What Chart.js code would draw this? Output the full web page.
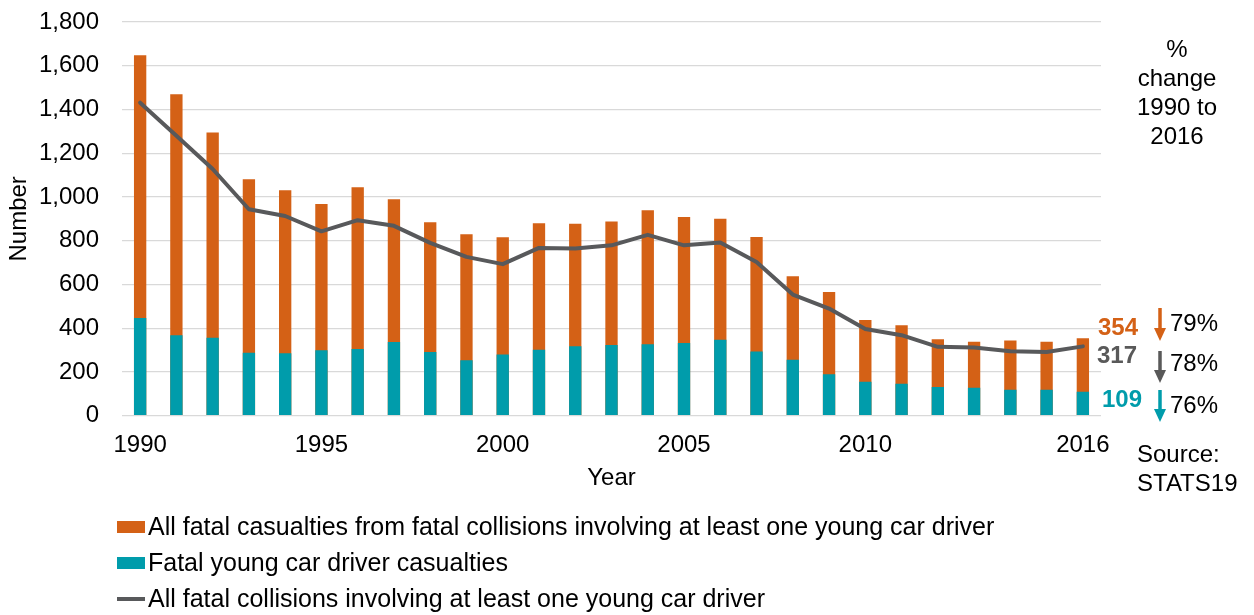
<!DOCTYPE html>
<html>
<head>
<meta charset="utf-8">
<title>Young car driver fatalities 1990 to 2016</title>
<script src="https://cdn.jsdelivr.net/npm/chart.js@4/dist/chart.umd.min.js"></script>
<style>
  html, body { margin: 0; padding: 0; background: #ffffff; }
  #wrap { width: 1254px; height: 615px; position: relative; }
  canvas { display: block; }
</style>
</head>
<body>
<div id="wrap"><canvas id="chart" width="1254" height="615"></canvas></div>
<script>
// Years on the category axis
const years = ['1990','1991','1992','1993','1994','1995','1996','1997','1998','1999',
  '2000','2001','2002','2003','2004','2005','2006','2007','2008','2009',
  '2010','2011','2012','2013','2014','2015','2016'];

// Only these years carry a tick label
const shownYears = ['1990','1995','2000','2005','2010','2016'];

// All fatal casualties from fatal collisions involving at least one young car driver
const allFatalCasualties = [1648, 1470, 1295, 1081, 1031, 968, 1044, 990, 884, 830,
  816, 880, 878, 888, 939, 909, 900, 817, 638, 565,
  437, 413, 350, 338, 344, 338, 354];

// Fatal young car driver casualties
const youngDriverCasualties = [447, 368, 356, 288, 285, 299, 305, 337, 291, 254,
  280, 301, 318, 323, 327, 332, 347, 294, 256, 189,
  155, 146, 131, 128, 119, 119, 109];

// All fatal collisions involving at least one young car driver
const fatalCollisions = [1431, 1280, 1128, 944, 913, 843, 894, 868, 790, 726,
  693, 767, 764, 779, 827, 779, 792, 703, 554, 490,
  396, 368, 315, 312, 295, 291, 317];

// Percentage change 1990 to 2016 for each series
const pctChange = ['79%', '78%', '76%'];

const seriesNames = [
  'All fatal casualties from fatal collisions involving at least one young car driver',
  'Fatal young car driver casualties',
  'All fatal collisions involving at least one young car driver'
];

const ORANGE = '#D46116';
const TEAL = '#009CAB';
const GREY = '#58595B';
const FONT = '"Liberation Sans", Arial, Helvetica, sans-serif';

Chart.defaults.font.family = FONT;
Chart.defaults.font.size = 24;
Chart.defaults.color = '#000000';

// Legend, end-of-series values, change arrows and notes
const sidePanel = {
  id: 'sidePanel',
  afterDraw(chart) {
    const ctx = chart.ctx;
    const y = chart.scales.y;
    const last = years.length - 1;
    ctx.save();

    // Legend rows
    const lx = 117, rows = [527, 563, 599];
    ctx.font = '25px ' + FONT;
    ctx.textBaseline = 'middle';
    ctx.textAlign = 'left';
    rows.forEach((ry, i) => {
      if (i < 2) {
        ctx.fillStyle = i === 0 ? ORANGE : TEAL;
        ctx.fillRect(lx, ry - 6, 28, 12);
      } else {
        ctx.strokeStyle = GREY;
        ctx.lineWidth = 4;
        ctx.beginPath();
        ctx.moveTo(lx, ry);
        ctx.lineTo(lx + 28, ry);
        ctx.stroke();
      }
      ctx.fillStyle = '#000000';
      ctx.fillText(seriesNames[i], lx + 31, ry + 1);
    });

    // Final-year values
    const finals = [
      { v: allFatalCasualties[last], dy: -11, c: ORANGE, right: 1138 },
      { v: fatalCollisions[last], dy: 9, c: '#595959', right: 1137 },
      { v: youngDriverCasualties[last], dy: 8, c: TEAL, right: 1142 }
    ];
    ctx.font = 'bold 24px ' + FONT;
    ctx.textAlign = 'right';
    finals.forEach(f => {
      ctx.fillStyle = f.c;
      ctx.fillText(String(f.v), f.right, y.getPixelForValue(f.v) + f.dy + 1);
    });

    // Down arrows and percentage changes
    const arrows = [
      { top: 308, bottom: 341, c: ORANGE, label: 323 },
      { top: 351, bottom: 383, c: '#595959', label: 363 },
      { top: 390, bottom: 422, c: TEAL, label: 405 }
    ];
    const ax = 1160;
    arrows.forEach((a, i) => {
      ctx.strokeStyle = a.c;
      ctx.fillStyle = a.c;
      ctx.lineWidth = 3.5;
      ctx.beginPath();
      ctx.moveTo(ax, a.top);
      ctx.lineTo(ax, a.bottom - 10);
      ctx.stroke();
      ctx.beginPath();
      ctx.moveTo(ax - 6, a.bottom - 13);
      ctx.lineTo(ax + 6, a.bottom - 13);
      ctx.lineTo(ax, a.bottom);
      ctx.closePath();
      ctx.fill();
      ctx.fillStyle = '#000000';
      ctx.font = '24px ' + FONT;
      ctx.textAlign = 'left';
      ctx.fillText(pctChange[i], 1170, a.label + 1);
    });

    // Heading of the change column
    ctx.textAlign = 'center';
    ['%', 'change', '1990 to', '2016'].forEach((t, i) => {
      ctx.fillText(t, 1177, 49 + i * 29 + 1);
    });

    // Source note
    ctx.textAlign = 'left';
    ctx.fillText('Source:', 1137, 454 + 1);
    ctx.fillText('STATS19', 1137, 483 + 1);

    ctx.restore();
  }
};

new Chart(document.getElementById('chart'), {
  data: {
    labels: years,
    datasets: [
      {
        type: 'bar',
        label: seriesNames[0],
        data: allFatalCasualties,
        backgroundColor: ORANGE,
        grouped: false,
        barPercentage: 0.34,
        categoryPercentage: 1.0,
        order: 2
      },
      {
        type: 'bar',
        label: seriesNames[1],
        data: youngDriverCasualties,
        backgroundColor: TEAL,
        grouped: false,
        barPercentage: 0.34,
        categoryPercentage: 1.0,
        order: 1
      },
      {
        type: 'line',
        label: seriesNames[2],
        data: fatalCollisions,
        borderColor: GREY,
        borderWidth: 4,
        pointRadius: 0,
        tension: 0,
        borderJoinStyle: 'round',
        borderCapStyle: 'round',
        fill: false,
        order: 0
      }
    ]
  },
  options: {
    responsive: false,
    animation: false,
    layout: { padding: { top: 22, right: 153, bottom: 0, left: 0 } },
    plugins: {
      legend: { display: false },
      tooltip: { enabled: false }
    },
    scales: {
      x: {
        type: 'category',
        offset: true,
        grid: { display: false, drawTicks: false },
        border: { display: false },
        ticks: {
          autoSkip: false,
          maxRotation: 0,
          minRotation: 0,
          padding: 15,
          color: '#000000',
          callback(value) {
            const lbl = this.getLabelForValue(value);
            return shownYears.includes(lbl) ? lbl : '';
          }
        },
        title: {
          display: true,
          text: 'Year',
          color: '#000000',
          padding: { top: 0, bottom: 122.6 }
        },
        afterFit(scale) { scale.height = 199.3; }
      },
      y: {
        min: 0,
        max: 1800,
        stacked: false,
        grid: { color: '#D9D9D9', lineWidth: 1.2, drawTicks: false },
        border: { display: false },
        ticks: {
          stepSize: 200,
          padding: 23,
          color: '#000000',
          callback(v) { return Number(v).toLocaleString('en-US'); }
        },
        title: {
          display: true,
          text: 'Number',
          color: '#000000',
          padding: { top: 5, bottom: 0 }
        },
        afterFit(scale) {
          scale.width = 122;
          scale.paddingTop = 0;
          scale.paddingBottom = 0;
        }
      }
    }
  },
  plugins: [sidePanel]
});
</script>
</body>
</html>
